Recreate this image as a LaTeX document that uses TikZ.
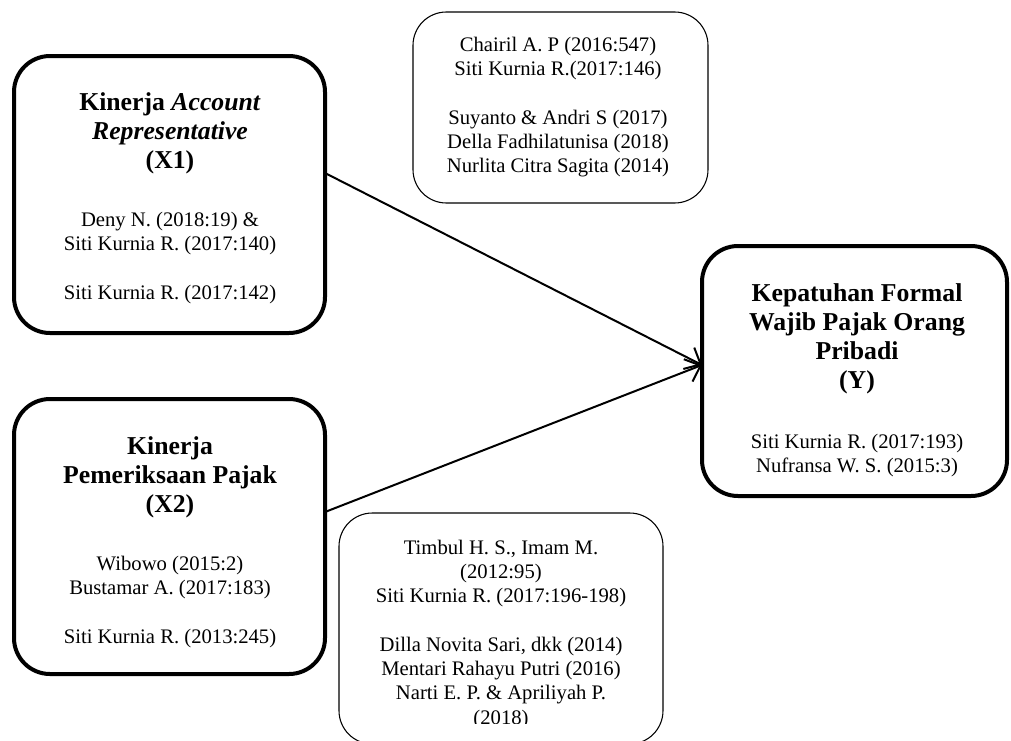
\documentclass[tikz,border=0pt]{standalone}
\usepackage{fontspec}
\setmainfont{Liberation Serif}
\usetikzlibrary{arrows.meta,fit}
\begin{document}
\begin{tikzpicture}[x=0.75pt,y=-0.75pt,
  thickbox/.style={draw, line width=3pt, rounded corners=27pt, inner sep=0pt},
  thinbox/.style={draw, line width=0.8pt, rounded corners=25pt, inner sep=0pt},
  head/.style={anchor=north, align=center, inner sep=0pt, font=\fontsize{19.3}{21.75}\selectfont\bfseries},
  refs/.style={anchor=north, align=center, inner sep=0pt, font=\fontsize{15.5}{18.2}\selectfont},
  link/.style={line width=1.5pt, -{Straight Barb[length=10pt,width=18pt,line width=1.5pt]}}]
\useasboundingbox (0,0) rectangle (1011,740);
\fill[white] (0,0) rectangle (1011,740);

% boxes
\node[thickbox, fit={(14,56) (325,333)}] (X1) {};
\node[thickbox, fit={(14,399) (325,674)}] (X2) {};
\node[thickbox, fit={(702,246) (1007,496)}] (Y) {};
\node[thinbox, fit={(413,12) (708,203)}] (T) {};
\node[thinbox, fit={(339,513) (663,744)}] (B) {};

% texts
\node[head] (X1h) at (170,90) {\strut Kinerja \textit{Account}\\\textit{Representative}\\(X1)};
\node[refs] (X1r) at (170,209) {\strut Deny N. (2018:19) \&\\Siti Kurnia R. (2017:140)\\[18.2pt]Siti Kurnia R. (2017:142)};

\node[head] (X2h) at (170,434) {\strut Kinerja\\Pemeriksaan Pajak\\(X2)};
\node[refs] (X2r) at (170,553) {\strut Wibowo (2015:2)\\Bustamar A. (2017:183)\\[18.2pt]Siti Kurnia R. (2013:245)};

\node[head] (Yh) at (857,281) {\strut Kepatuhan Formal\\Wajib Pajak Orang\\Pribadi\\(Y)};
\node[refs] (Yr) at (857,431) {\strut Siti Kurnia R. (2017:193)\\Nufransa W. S. (2015:3)};

\node[refs] (Tr) at (558,34) {\strut Chairil A. P (2016:547)\\Siti Kurnia R.(2017:146)\\[18.2pt]Suyanto \& Andri S (2017)\\Della Fadhilatunisa (2018)\\Nurlita Citra Sagita (2014)};

\begin{scope}
\clip (0,0) rectangle (1011,723);
\node[refs] (Br) at (501,537) {\strut Timbul H. S., Imam M.\\(2012:95)\\Siti Kurnia R. (2017:196-198)\\[18.2pt]Dilla Novita Sari, dkk (2014)\\Mentari Rahayu Putri (2016)\\Narti E. P. \& Apriliyah P.\\(2018)};
\end{scope}

% connectors
\coordinate (x1out) at (325,173);
\coordinate (x2out) at (325,512);
\coordinate (yin) at (702,365);
\draw[link] (x1out) -- (yin);
\draw[link] (x2out) -- (yin);
\end{tikzpicture}
\end{document}
